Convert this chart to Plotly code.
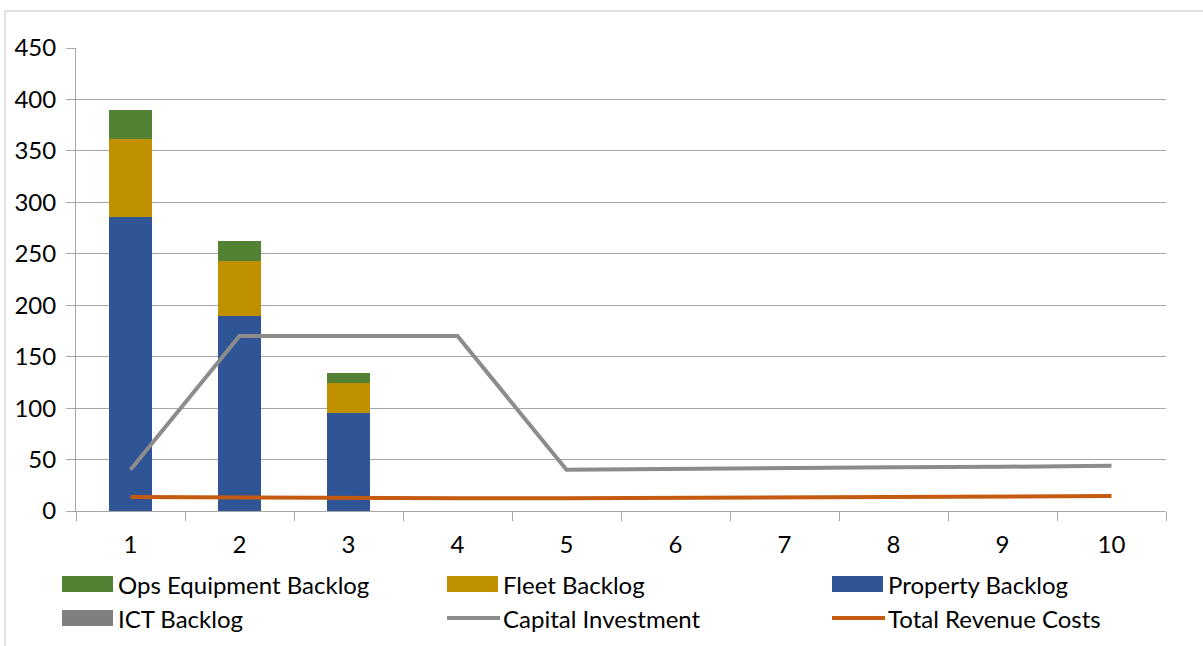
import plotly.graph_objects as go

# ---- data -------------------------------------------------------------
years = ["1", "2", "3", "4", "5", "6", "7", "8", "9", "10"]
property_backlog = [286, 190, 95, 0, 0, 0, 0, 0, 0, 0]
fleet_backlog = [76, 53, 29, 0, 0, 0, 0, 0, 0, 0]
ops_equipment_backlog = [28, 19, 10, 0, 0, 0, 0, 0, 0, 0]
ict_backlog = [0, 0, 0, 0, 0, 0, 0, 0, 0, 0]
capital_investment = [40, 170, 170, 170, 40, 41, 42, 42.5, 43, 44]
total_revenue_costs = [13.5, 13, 13, 12.5, 12.5, 13, 13, 13.5, 14, 14.5]

# ---- styling ----------------------------------------------------------
FONT = "Lato"
C_PROPERTY = "#2F5597"
C_FLEET = "#BF9000"
C_OPS = "#548235"
C_ICT = "#7F7F7F"
C_CAPITAL = "#8C8C8C"
C_REVENUE = "#C55A11"
GRID = "#A6A6A6"

W, H = 1203, 646
L, R, T, B = 76, 37, 48, 135
PW, PH = W - L - R, H - T - B


def px_x(x):
    return (x - L) / PW


def px_y(y):
    return (H - B - y) / PH


fig = go.Figure()

bar_series = [
    ("Property Backlog", property_backlog, C_PROPERTY),
    ("Fleet Backlog", fleet_backlog, C_FLEET),
    ("Ops Equipment Backlog", ops_equipment_backlog, C_OPS),
    ("ICT Backlog", ict_backlog, C_ICT),
]
for name, vals, col in bar_series:
    fig.add_trace(go.Bar(x=years, y=vals, name=name, marker_color=col,
                         marker_line_width=0, showlegend=False))

fig.add_trace(go.Scatter(x=years, y=capital_investment, name="Capital Investment",
                         mode="lines", line=dict(color=C_CAPITAL, width=4),
                         showlegend=False))
fig.add_trace(go.Scatter(x=years, y=total_revenue_costs, name="Total Revenue Costs",
                         mode="lines", line=dict(color=C_REVENUE, width=4),
                         showlegend=False))

# ---- legend (two rows, three columns) ---------------------------------
legend_items = [
    ("Ops Equipment Backlog", C_OPS, "box", 62, 584),
    ("Fleet Backlog", C_FLEET, "box", 447, 584),
    ("Property Backlog", C_PROPERTY, "box", 832, 584),
    ("ICT Backlog", C_ICT, "box", 62, 618),
    ("Capital Investment", C_CAPITAL, "line", 447, 618),
    ("Total Revenue Costs", C_REVENUE, "line", 832, 618),
]
shapes = []
annotations = []
for label, col, kind, x0, yc in legend_items:
    if kind == "box":
        shapes.append(dict(type="rect", xref="paper", yref="paper",
                           x0=px_x(x0), x1=px_x(x0 + 51),
                           y0=px_y(yc + 8), y1=px_y(yc - 8),
                           fillcolor=col, line_width=0))
    else:
        shapes.append(dict(type="line", xref="paper", yref="paper",
                           x0=px_x(x0), x1=px_x(x0 + 53),
                           y0=px_y(yc), y1=px_y(yc),
                           line=dict(color=col, width=4)))
    annotations.append(dict(text=label, xref="paper", yref="paper",
                            x=px_x(x0 + 54), y=px_y(yc), xanchor="left",
                            yanchor="middle", showarrow=False,
                            font=dict(family=FONT, size=24, color="#000000")))

# chart-area frame (left and top edges)
shapes.append(dict(type="line", xref="paper", yref="paper",
                   x0=px_x(5), x1=px_x(5), y0=px_y(11), y1=px_y(H),
                   line=dict(color="#D9D9D9", width=1.5)))
shapes.append(dict(type="line", xref="paper", yref="paper",
                   x0=px_x(5), x1=px_x(W + 5), y0=px_y(11), y1=px_y(11),
                   line=dict(color="#D9D9D9", width=1.5)))

fig.update_layout(
    width=W, height=H,
    margin=dict(l=L, r=R, t=T, b=B, pad=0),
    barmode="stack",
    bargap=0.6,
    plot_bgcolor="white",
    paper_bgcolor="white",
    font=dict(family=FONT, size=24, color="#000000"),
    shapes=shapes,
    annotations=annotations,
    xaxis=dict(type="category", tickson="boundaries", ticks="outside",
               ticklen=9, tickcolor=GRID, showline=True, linecolor=GRID,
               linewidth=1, showgrid=False, tickfont=dict(size=24),
               ticklabelstandoff=12),
    yaxis=dict(range=[0, 450], dtick=50, ticks="outside", ticklen=9,
               tickcolor=GRID, showline=True, linecolor=GRID, linewidth=1,
               showgrid=True, gridcolor=GRID, gridwidth=1, zeroline=False,
               tickfont=dict(size=24), ticklabelstandoff=5),
)

fig.write_html("out.html")
